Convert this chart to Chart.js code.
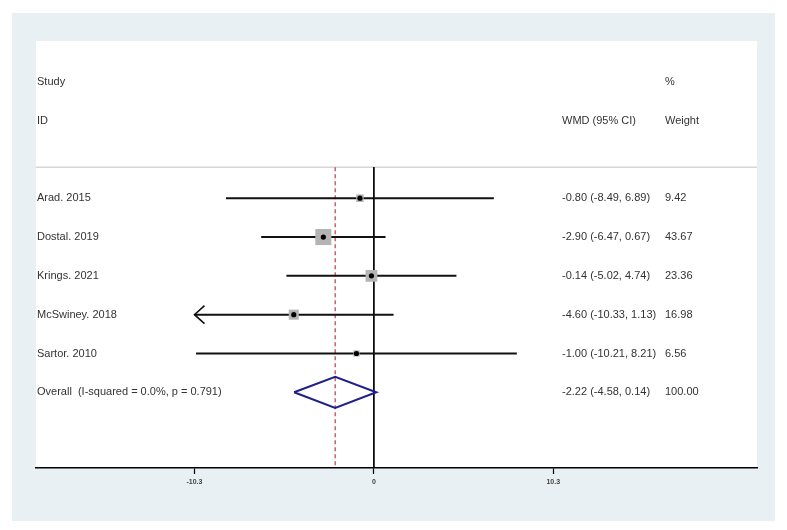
<!DOCTYPE html>
<html>
<head>
<meta charset="utf-8">
<script src="https://cdn.jsdelivr.net/npm/chart.js@4"></script>
<style>
  html, body { margin: 0; padding: 0; background: #fff; }
  #wrap { width: 787px; height: 530px; }
</style>
</head>
<body>
<div id="wrap"><canvas id="forest" width="787" height="530"></canvas></div>
<script>
// study data
const studies = ['Arad. 2015', 'Dostal. 2019', 'Krings. 2021', 'McSwiney. 2018', 'Sartor. 2010'];
const wmd     = [-0.80, -2.90, -0.14, -4.60, -1.00];
const lower   = [-8.49, -6.47, -5.02, -10.33, -10.21];
const upper   = [6.89, 0.67, 4.74, 1.13, 8.21];
const weights = [9.42, 43.67, 23.36, 16.98, 6.56];

// pooled result
const overallLabel = 'Overall  (I-squared = 0.0%, p = 0.791)';
const overall = { est: -2.22, lo: -4.58, hi: 0.14, weight: 100.00 };

const tickVals = [-10.3, 0, 10.3];
const tickLabels = ['-10.3', '0', '10.3'];

const rows = [4, 5, 6, 7, 8];
const overallRow = 9;
const sepRow = 3.2;
const clipMin = Math.min(...tickVals);

const fmt = v => v.toFixed(2);
const ciText = (e, l, h) => fmt(e) + ' (' + fmt(l) + ', ' + fmt(h) + ')';

const ds = [];

// estimate dots
ds.push({
  data: wmd.map((v, i) => ({ x: v, y: rows[i] })),
  pointStyle: 'circle', pointRadius: 2.6, backgroundColor: '#000', borderWidth: 0,
  showLine: false, order: 0
});
// weight boxes
ds.push({
  data: wmd.map((v, i) => ({ x: v, y: rows[i] })),
  pointStyle: 'rect', pointRadius: weights.map(w => 1.72 * Math.sqrt(w)),
  backgroundColor: '#b4b4b4', borderWidth: 0, showLine: false, order: 1
});
// CI lines
studies.forEach((s, i) => {
  ds.push({
    data: [{ x: Math.max(lower[i], clipMin), y: rows[i] }, { x: upper[i], y: rows[i] }],
    showLine: true, borderColor: '#111', borderWidth: 2, pointRadius: 0, order: 3
  });
});
// pooled diamond
const dh = 0.4;
ds.push({
  data: [
    { x: overall.lo, y: overallRow }, { x: overall.est, y: overallRow - dh },
    { x: overall.hi, y: overallRow }, { x: overall.est, y: overallRow + dh },
    { x: overall.lo, y: overallRow }
  ],
  showLine: true, borderColor: '#1f1f8a', borderWidth: 2, pointRadius: 0, order: 2
});
// null line
ds.push({
  data: [{ x: 0, y: sepRow }, { x: 0, y: 10.95 }],
  showLine: true, borderColor: '#000', borderWidth: 1, pointRadius: 0, order: 4
});
// pooled estimate line
ds.push({
  data: [{ x: overall.est, y: sepRow }, { x: overall.est, y: 10.95 }],
  showLine: true, borderColor: '#c04a5e', borderWidth: 1.3, borderDash: [4, 3],
  pointRadius: 0, order: 5
});

const panelPlugin = {
  id: 'panel',
  beforeDraw(chart) {
    const c = chart.ctx, a = chart.chartArea;
    c.save();
    c.fillStyle = '#fff';
    c.fillRect(0, 0, chart.width, chart.height);
    c.fillStyle = '#e8f0f3';
    c.fillRect(12, 13, 763, 508);
    c.fillStyle = '#fff';
    c.fillRect(a.left, a.top, a.right - a.left, a.bottom - a.top);
    const y = chart.scales.y;
    c.strokeStyle = '#d6d6d6';
    c.lineWidth = 1.5;
    c.beginPath();
    c.moveTo(a.left, y.getPixelForValue(sepRow));
    c.lineTo(a.right, y.getPixelForValue(sepRow));
    c.stroke();
    c.restore();
  },
  afterDatasetsDraw(chart) {
    const c = chart.ctx, a = chart.chartArea;
    const x = chart.scales.x, y = chart.scales.y;
    c.save();
    // arrows for clipped intervals
    c.strokeStyle = '#111';
    c.lineWidth = 1.6;
    lower.forEach((l, i) => {
      if (l < clipMin) {
        const px = x.getPixelForValue(clipMin), py = y.getPixelForValue(rows[i]);
        c.beginPath();
        c.moveTo(px + 10, py - 9);
        c.lineTo(px, py);
        c.lineTo(px + 10, py + 9);
        c.stroke();
      }
    });
    // text columns
    c.fillStyle = '#333';
    c.font = '11px "Liberation Sans", Arial, sans-serif';
    c.textBaseline = 'middle';
    c.textAlign = 'left';
    const colId = a.left + 1, colCi = 562, colW = 665;
    c.fillText('Study', colId, y.getPixelForValue(1));
    c.fillText('%', colW, y.getPixelForValue(1));
    c.fillText('ID', colId, y.getPixelForValue(2));
    c.fillText('WMD (95% CI)', colCi, y.getPixelForValue(2));
    c.fillText('Weight', colW, y.getPixelForValue(2));
    studies.forEach((s, i) => {
      const py = y.getPixelForValue(rows[i]);
      c.fillText(s, colId, py);
      c.fillText(ciText(wmd[i], lower[i], upper[i]), colCi, py);
      c.fillText(fmt(weights[i]), colW, py);
    });
    const po = y.getPixelForValue(overallRow);
    c.fillText(overallLabel, colId, po);
    c.fillText(ciText(overall.est, overall.lo, overall.hi), colCi, po);
    c.fillText(fmt(overall.weight), colW, po);
    c.restore();
  }
};

new Chart(document.getElementById('forest').getContext('2d'), {
  type: 'scatter',
  data: { datasets: ds },
  options: {
    responsive: false,
    animation: false,
    events: [],
    layout: { padding: { left: 36, right: 30, top: 41, bottom: 0 } },
    plugins: { legend: { display: false }, tooltip: { enabled: false } },
    scales: {
      x: {
        type: 'linear', min: -19.4, max: 22.0,
        afterBuildTicks: s => { s.ticks = tickVals.map(v => ({ value: v })); },
        afterFit: s => { s.height = 62; },
        ticks: {
          autoSkip: false, maxRotation: 0, padding: 4, color: '#444',
          font: { size: 7, weight: 'bold', family: '"Liberation Sans Narrow", "Liberation Sans", Arial' },
          callback: (v) => tickLabels[tickVals.indexOf(v)]
        },
        grid: { drawOnChartArea: false, tickLength: 6, tickColor: '#000', tickWidth: 1.2 },
        border: { color: '#000', width: 1.5 }
      },
      y: { display: false, min: -0.05, max: 10.95, reverse: true }
    }
  },
  plugins: [panelPlugin]
});
</script>
</body>
</html>
